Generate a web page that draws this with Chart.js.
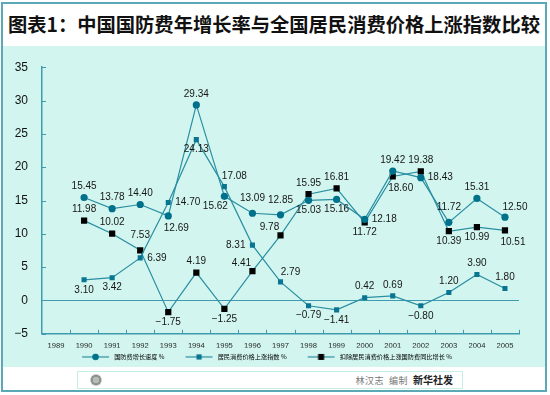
<!DOCTYPE html>
<html>
<head>
<meta charset="utf-8">
<script src="https://cdn.jsdelivr.net/npm/chart.js@4.4.1/dist/chart.umd.min.js"></script>
<style>
  body { margin: 0; background: #fff; }
  #frame { position: relative; width: 550px; height: 395px; overflow: hidden; background: #fff; font-family: "Noto Sans CJK SC", sans-serif; }
  #title { position: absolute; left: 8px; top: 14px; font-size: 19.3px; line-height: 20px; font-weight: bold; color: #111; white-space: nowrap; }
  #mint { position: absolute; left: 3px; top: 46px; width: 542px; height: 321px; background: #d2f6ef; }
  #wrap { position: absolute; left: 0; top: 46px; width: 550px; height: 324px; }
  #border { position: absolute; left: 1px; top: 2px; width: 546px; height: 390px; box-sizing: border-box; border: 2px solid #5ba8b6; pointer-events: none; }
  #foot { position: absolute; left: 77px; top: 371px; width: 386px; height: 18px; box-sizing: border-box; border: 1px solid #c8ece6; background: #fff; }
  #logo { position: absolute; left: 12px; top: 2px; width: 12px; height: 12px; border-radius: 50%; background: radial-gradient(circle, #b8bcb8 0 35%, #8d938e 36% 60%, #c9ccc9 61% 100%); }
  #credit { position: absolute; right: 9px; top: 0; line-height: 16px; font-size: 9px; color: #777; white-space: nowrap; letter-spacing: 0.5px; }
  #credit b { font-size: 10px; color: #222; margin-left: 5px; letter-spacing: 0; }
</style>
</head>
<body>
<div id="frame">
  <div id="title">图表1：中国国防费年增长率与全国居民消费价格上涨指数比较</div>
  <div id="mint"></div>
  <div id="wrap"><canvas id="chart"></canvas></div>
  <div id="foot"><div id="logo"></div><div id="credit">林汉志&nbsp;&nbsp;编制<b>新华社发</b></div></div>
  <div id="border"></div>
</div>
<script>
const years = ["1989", "1990", "1991", "1992", "1993", "1994", "1995", "1996", "1997",
  "1998", "1999", "2000", "2001", "2002", "2003", "2004", "2005"];

const seriesNames = [
  "国防费增长速度 %",
  "居民消费价格上涨指数 %",
  "扣除居民消费价格上涨国防费同比增长 %",
];

// values for 1990-2005 (1989 has no data)
const defenseGrowth = [15.45, 13.78, 14.40, 12.69, 29.34, 15.62, 13.09, 12.85,
  15.03, 15.16, 12.18, 19.42, 18.43, 11.72, 15.31, 12.50];
const cpiRise = [3.10, 3.42, 6.39, 14.70, 24.13, 17.08, 8.31, 2.79,
  -0.79, -1.41, 0.42, 0.69, -0.80, 1.20, 3.90, 1.80];
const realGrowth = [11.98, 10.02, 7.53, -1.75, 4.19, -1.25, 4.41, 9.78,
  15.95, 16.81, 11.72, 18.60, 19.38, 10.39, 10.99, 10.51];

const yTicks = [-5, 0, 5, 10, 15, 20, 25, 30, 35];

// where each value label sits relative to its point
const labelPosA = ["t", "t", "t", "br", "t", "bl", "tt", "tt", "b", "b", "r", "t", "r", "tt", "t", "tr"];
const labelPosB = ["b", "b", "r", "r", "b", "tr", "l", "tr", "b", "b", "t", "t", "b", "t", "t", "t"];
const labelPosC = ["t", "t", "tt", "b", "t", "b", "tl", "tl", "t", "t", "b", "br", "t", "b", "b", "br"];

const LINE = "#2b8ea2";
const AXIS = "#3f9bad";
const CIRCLE = "#00718b";
const SQUARE = "#0a7590";
const BLACK = "#000";

const OFFSETS = {
  t: [0, -11, "center"], tt: [0, -15, "center"], b: [0, 10, "center"],
  r: [7, 0, "left"], l: [-7, 0, "right"],
  tr: [10, -10, "center"], br: [8, 12, "center"], bl: [-9, 10, "center"], tl: [-11, -8, "center"],
};

function fmt(v) {
  const s = Math.abs(v).toFixed(2);
  return v < 0 ? "\u2212" + s : s;
}

function legendIcon(shape, fill, r) {
  const c = document.createElement("canvas");
  c.width = 44;
  c.height = 10;
  const g = c.getContext("2d");
  g.strokeStyle = LINE;
  g.lineWidth = 1.2;
  g.beginPath();
  g.moveTo(15, 5);
  g.lineTo(42, 5);
  g.stroke();
  g.fillStyle = fill;
  if (shape === "circle") {
    g.beginPath();
    g.arc(28.5, 5, r, 0, Math.PI * 2);
    g.fill();
  } else {
    g.fillRect(28.5 - r, 5 - r, 2 * r, 2 * r);
  }
  return c;
}

const icons = [
  legendIcon("circle", CIRCLE, 3.3),
  legendIcon("rect", SQUARE, 2.6),
  legendIcon("rect", BLACK, 3),
];

const withGap = (arr) => [null].concat(arr);

const axisTicks = {
  id: "axisTicks",
  beforeDatasetsDraw(chart) {
    const { ctx, scales: { x, y } } = chart;
    ctx.save();
    ctx.strokeStyle = AXIS;
    ctx.lineWidth = 1;
    // zero line
    const y0 = Math.round(y.getPixelForValue(0)) + 0.5;
    ctx.beginPath();
    ctx.moveTo(x.left, y0);
    ctx.lineTo(x.right, y0);
    ctx.stroke();
    // y ticks pointing inward
    yTicks.forEach((v) => {
      const py = Math.round(y.getPixelForValue(v)) + 0.5;
      ctx.beginPath();
      ctx.moveTo(x.left, py);
      ctx.lineTo(x.left + 4, py);
      ctx.stroke();
    });
    // x ticks at category boundaries, pointing up
    const step = x.getPixelForValue(1) - x.getPixelForValue(0);
    const first = x.getPixelForValue(0) - step / 2;
    for (let i = 1; i <= years.length; i++) {
      const px = Math.round(first + i * step) + 0.5;
      ctx.beginPath();
      ctx.moveTo(px, y.bottom);
      ctx.lineTo(px, y.bottom - 4);
      ctx.stroke();
    }
    ctx.restore();
  },
};

const valueLabels = {
  id: "valueLabels",
  afterDatasetsDraw(chart) {
    const { ctx } = chart;
    const positions = [labelPosA, labelPosB, labelPosC];
    ctx.save();
    ctx.font = "10px 'Liberation Sans', Arial, sans-serif";
    ctx.fillStyle = "#151515";
    ctx.textBaseline = "middle";
    chart.data.datasets.forEach((ds, di) => {
      const meta = chart.getDatasetMeta(di);
      meta.data.forEach((pt, i) => {
        const v = ds.data[i];
        if (v === null || v === undefined) return;
        const [dx, dy, align] = OFFSETS[positions[di][i - 1]];
        ctx.textAlign = align;
        ctx.fillText(fmt(v), pt.x + dx, pt.y + dy);
      });
    });
    ctx.restore();
  },
};

new Chart(document.getElementById("chart"), {
  type: "line",
  data: {
    labels: years,
    datasets: [
      {
        label: seriesNames[0],
        data: withGap(defenseGrowth),
        borderColor: LINE,
        borderWidth: 1.2,
        pointStyle: "circle",
        pointRadius: 3.6,
        pointBackgroundColor: CIRCLE,
        pointBorderWidth: 0,
      },
      {
        label: seriesNames[1],
        data: withGap(cpiRise),
        borderColor: LINE,
        borderWidth: 1.2,
        pointStyle: "rect",
        pointRadius: 3.6,
        pointBackgroundColor: SQUARE,
        pointBorderWidth: 0,
      },
      {
        label: seriesNames[2],
        data: withGap(realGrowth),
        borderColor: LINE,
        borderWidth: 1.2,
        pointStyle: "rect",
        pointRadius: 4.4,
        pointBackgroundColor: BLACK,
        pointBorderWidth: 0,
      },
    ],
  },
  options: {
    responsive: true,
    maintainAspectRatio: false,
    animation: false,
    layout: { padding: { left: 0, right: 31, top: 14, bottom: 0 } },
    plugins: {
      tooltip: { enabled: false },
      legend: {
        position: "bottom",
        labels: {
          usePointStyle: true,
          pointStyleWidth: 44,
          padding: 6,
          color: "#333",
          font: { family: "'Noto Sans CJK SC', sans-serif", size: 6.2 },
          generateLabels: () => seriesNames.map((name, i) => ({
            text: name,
            pointStyle: icons[i],
            fillStyle: "transparent",
            strokeStyle: "transparent",
            lineWidth: 0,
            hidden: false,
            datasetIndex: i,
          })),
        },
      },
    },
    scales: {
      x: {
        type: "category",
        offset: true,
        grid: { display: false, drawTicks: false },
        border: { display: true, color: AXIS, width: 1.5 },
        ticks: {
          autoSkip: false,
          maxRotation: 0,
          padding: 8,
          color: "#222",
          font: { family: "'Liberation Sans', Arial, sans-serif", size: 7.6 },
        },
        afterFit: (scale) => { scale.height = 14; },
      },
      y: {
        min: -5,
        max: 35,
        afterBuildTicks: (scale) => { scale.ticks = yTicks.map((v) => ({ value: v })); },
        grid: { display: false, drawTicks: false },
        border: { display: true, color: AXIS, width: 1.5 },
        ticks: {
          padding: 14,
          color: "#111",
          font: { family: "'Liberation Sans', Arial, sans-serif", size: 12 },
          callback: (v) => (v < 0 ? "\u2212" + Math.abs(v) : String(v)),
        },
        afterFit: (scale) => { scale.width = 42; },
      },
    },
  },
  plugins: [axisTicks, valueLabels],
});
</script>
</body>
</html>
